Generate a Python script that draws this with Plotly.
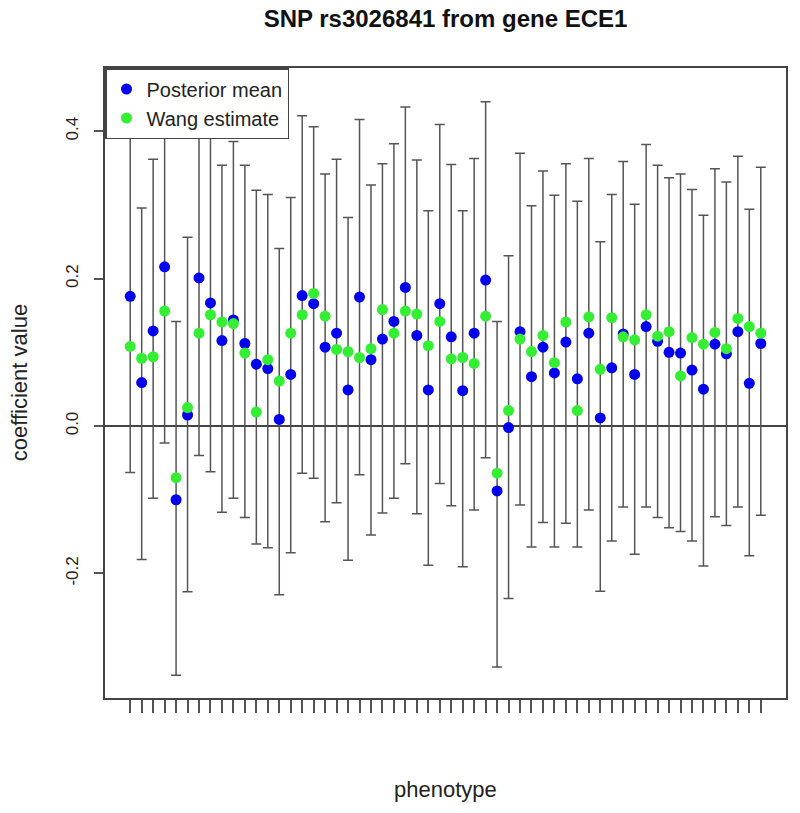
import plotly.graph_objects as go

phenotype = list(range(1, 57))

posterior_mean = [0.176, 0.059, 0.129, 0.216, -0.100, 0.015, 0.201, 0.167, 0.116, 0.144,
                  0.112, 0.084, 0.078, 0.009, 0.070, 0.177, 0.166, 0.107, 0.126, 0.049,
                  0.175, 0.090, 0.118, 0.142, 0.188, 0.123, 0.049, 0.166, 0.121, 0.048,
                  0.126, 0.198, -0.088, -0.002, 0.128, 0.067, 0.107, 0.072, 0.114, 0.064,
                  0.126, 0.011, 0.079, 0.125, 0.070, 0.135, 0.115, 0.100, 0.099, 0.076,
                  0.050, 0.111, 0.098, 0.128, 0.058, 0.112]

wang_estimate = [0.108, 0.092, 0.094, 0.156, -0.070, 0.025, 0.126, 0.151, 0.141, 0.139,
                 0.099, 0.019, 0.090, 0.061, 0.126, 0.151, 0.180, 0.149, 0.104, 0.101,
                 0.093, 0.105, 0.158, 0.126, 0.156, 0.152, 0.109, 0.142, 0.091, 0.093,
                 0.085, 0.149, -0.064, 0.021, 0.118, 0.101, 0.123, 0.086, 0.141, 0.021,
                 0.148, 0.077, 0.147, 0.121, 0.117, 0.151, 0.122, 0.128, 0.068, 0.120,
                 0.111, 0.127, 0.105, 0.146, 0.135, 0.126]

upper = [0.415, 0.296, 0.362, 0.455, 0.142, 0.256, 0.442, 0.396, 0.354, 0.386,
         0.354, 0.320, 0.314, 0.241, 0.310, 0.421, 0.406, 0.342, 0.362, 0.283,
         0.416, 0.327, 0.356, 0.383, 0.433, 0.361, 0.292, 0.409, 0.355, 0.292,
         0.363, 0.440, 0.142, 0.231, 0.370, 0.299, 0.346, 0.313, 0.356, 0.305,
         0.363, 0.250, 0.314, 0.359, 0.301, 0.382, 0.354, 0.337, 0.342, 0.321,
         0.286, 0.349, 0.331, 0.366, 0.294, 0.351]

lower = [-0.063, -0.181, -0.098, -0.023, -0.338, -0.225, -0.040, -0.062, -0.117, -0.098,
         -0.124, -0.160, -0.165, -0.229, -0.172, -0.064, -0.071, -0.130, -0.104, -0.182,
         -0.066, -0.148, -0.118, -0.098, -0.051, -0.119, -0.189, -0.078, -0.108, -0.191,
         -0.114, -0.043, -0.327, -0.234, -0.107, -0.164, -0.131, -0.164, -0.132, -0.164,
         -0.114, -0.224, -0.156, -0.110, -0.174, -0.110, -0.124, -0.138, -0.143, -0.156,
         -0.190, -0.123, -0.135, -0.110, -0.176, -0.121]

y_tick_vals = [-0.2, 0.0, 0.2, 0.4]
y_tick_text = ["-0.2", "0.0", "0.2", "0.4"]

FONT = "Liberation Sans, Arial, Helvetica, sans-serif"

err_plus = [u - m for u, m in zip(upper, posterior_mean)]
err_minus = [m - l for m, l in zip(posterior_mean, lower)]

fig = go.Figure()
fig.add_trace(go.Scatter(
    x=phenotype, y=posterior_mean, mode="markers", name="Posterior mean",
    marker=dict(color="#0000ee", size=11, line=dict(width=0)),
    error_y=dict(type="data", symmetric=False, array=err_plus, arrayminus=err_minus,
                 color="#555555", thickness=1.5, width=5),
))
fig.add_trace(go.Scatter(
    x=phenotype, y=wang_estimate, mode="markers", name="Wang estimate",
    marker=dict(color="#33ee33", size=11, line=dict(width=0)),
))

W, H = 800, 813
fig.update_layout(
    width=W, height=H,
    margin=dict(l=105, r=12, t=68, b=115),
    paper_bgcolor="white", plot_bgcolor="white",
    font=dict(family=FONT, color="#222222"),
    showlegend=True,
    legend=dict(x=0, y=1, xanchor="left", yanchor="top", bgcolor="white",
                bordercolor="#444444", borderwidth=1.5, font=dict(size=20, color="#222222"),
                tracegroupgap=0),
    title=dict(text="<b>SNP rs3026841 from gene ECE1</b>", x=0.5, xref="paper",
               y=1 - 19 / H, yref="container", yanchor="middle", xanchor="center",
               font=dict(size=24, color="#111111")),
    xaxis=dict(range=[-1.2, 58.2], showgrid=False, zeroline=False,
               showline=True, linecolor="#444444", linewidth=1.5, mirror=True,
               tickmode="array", tickvals=phenotype, ticks="outside", ticklen=13,
               tickwidth=1.5, tickcolor="#555555", showticklabels=False),
    yaxis=dict(range=[-0.369, 0.4858], showgrid=False,
               zeroline=True, zerolinecolor="#444444", zerolinewidth=1.5,
               showline=True, linecolor="#444444", linewidth=1.5, mirror=True,
               tickmode="array", tickvals=y_tick_vals, ticktext=y_tick_text,
               ticks="outside", ticklen=9, tickwidth=1.5, tickcolor="#555555",
               tickangle=-90, tickfont=dict(size=17, color="#222222"),
               ticklabelstandoff=9),
    annotations=[
        dict(text="coefficient value", xref="paper", yref="paper", x=(19 - 105) / 683, y=0.5,
             xanchor="center", yanchor="middle", textangle=-90, showarrow=False,
             font=dict(size=22, color="#222222")),
        dict(text="phenotype", xref="paper", yref="paper", x=0.5, y=(698 - 789) / 630,
             xanchor="center", yanchor="middle", showarrow=False,
             font=dict(size=22, color="#222222")),
    ],
)

# remove the browser's default 8px body margin so the figure fills the window
fig.write_html("out.html", config={"displayModeBar": False},
               post_script="document.body.style.margin='0';")
